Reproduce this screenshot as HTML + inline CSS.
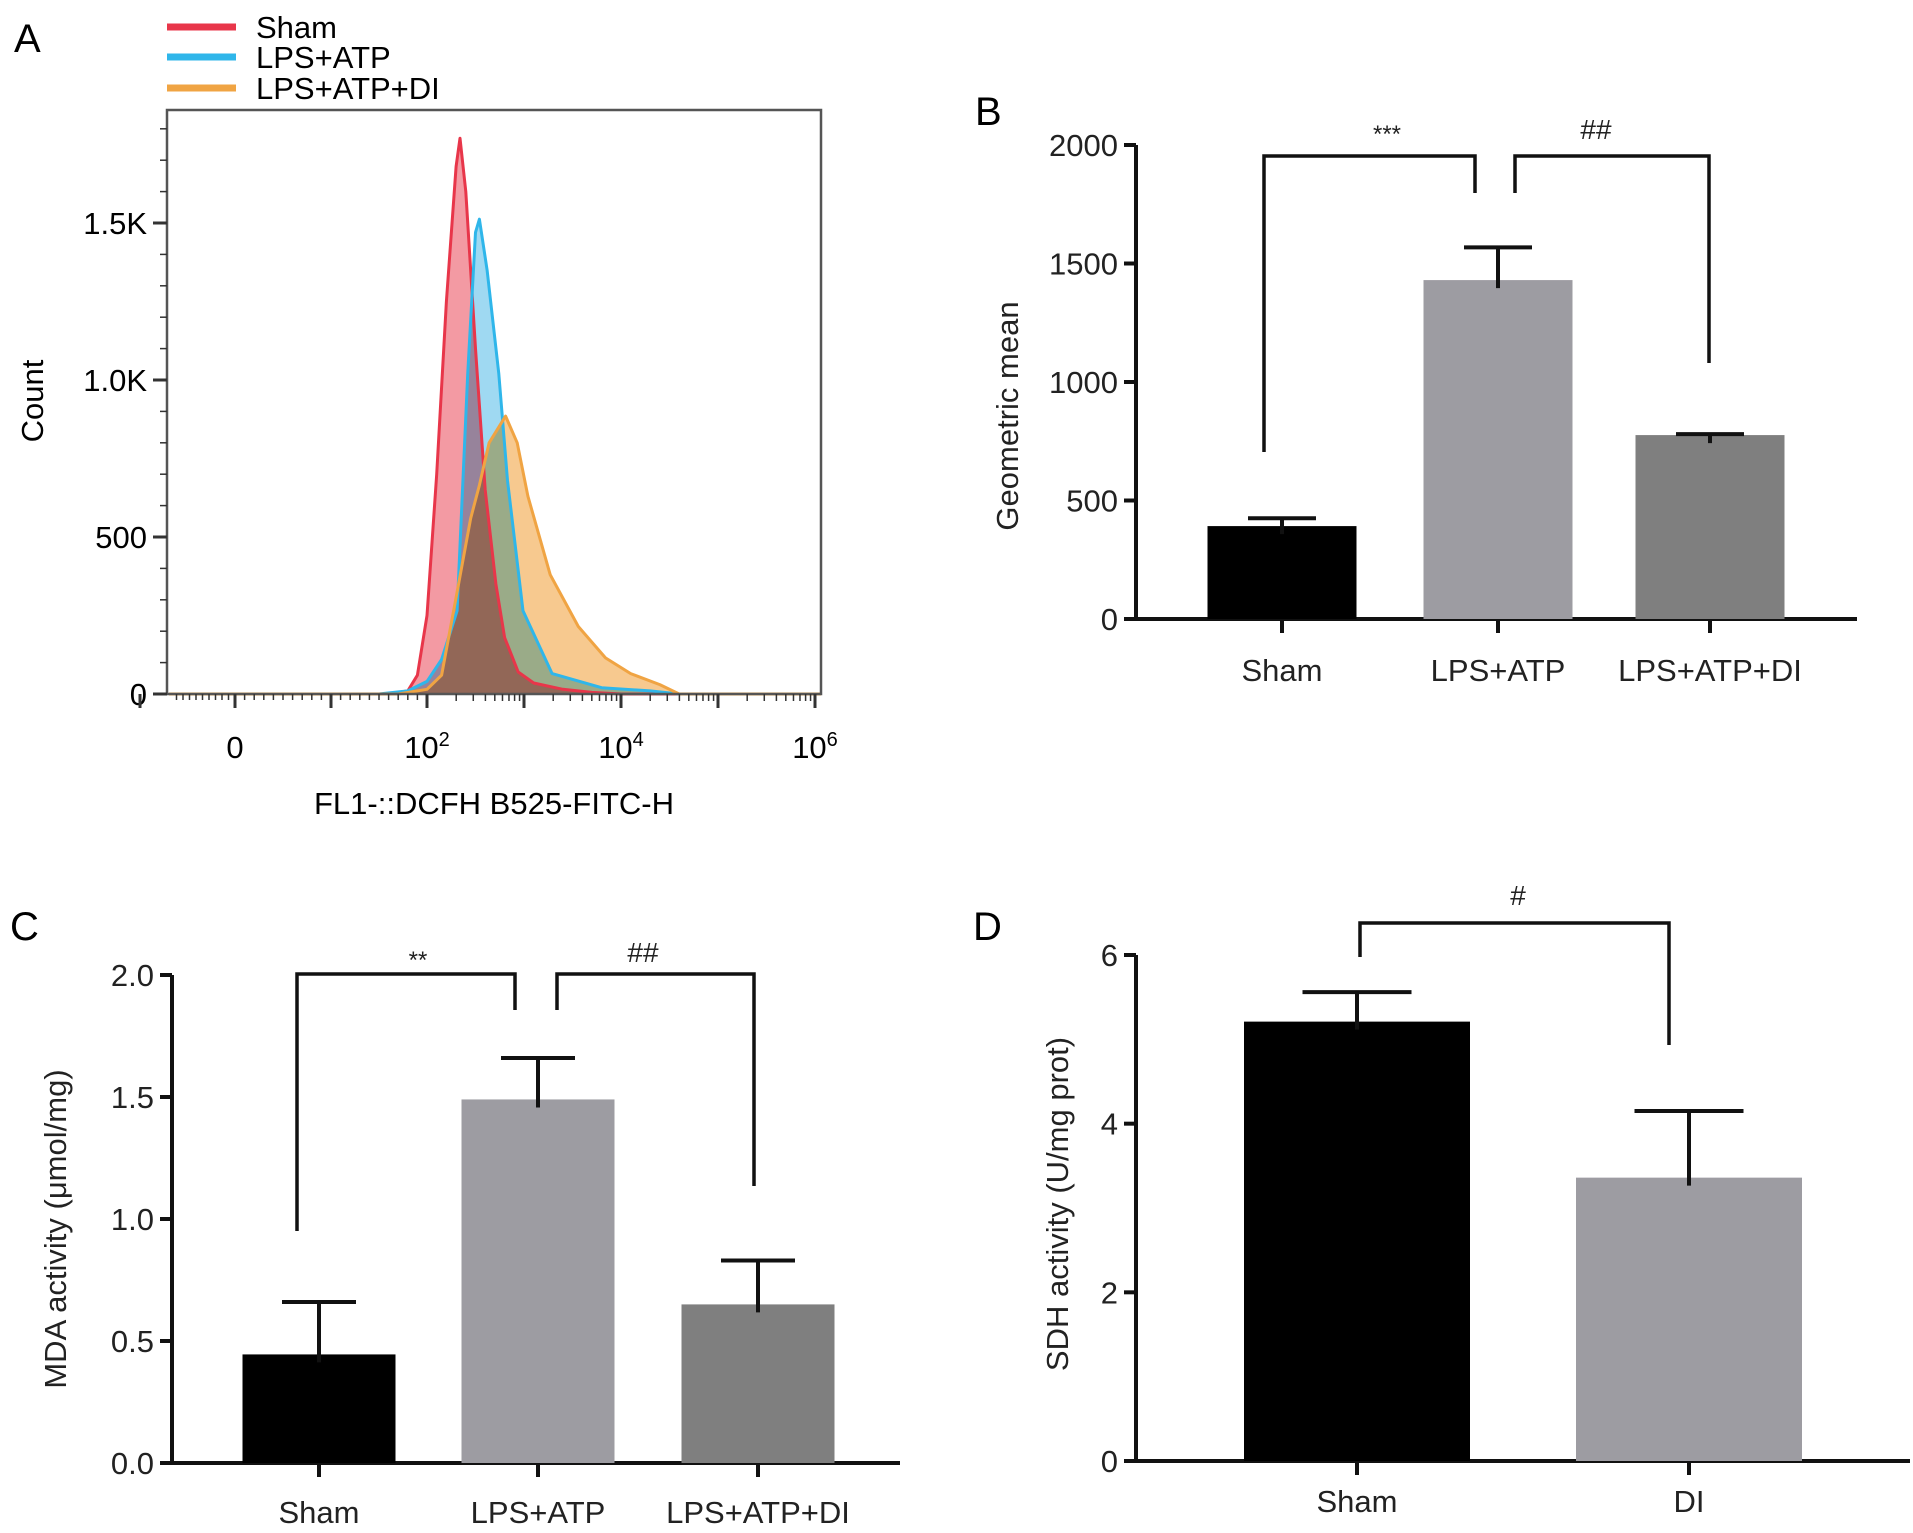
<!DOCTYPE html>
<html><head><meta charset="utf-8"><style>
body{margin:0;background:#fff;}
svg{display:block;font-family:"Liberation Sans",sans-serif;}
</style></head><body>
<svg id="fig" width="1913" height="1533" viewBox="0 0 1913 1533">
<g id="pa"></g>
<g id="pb"></g>
<g id="pc"></g>
<g id="pd"></g>
</svg>
<script>
// ---- Panel A data (log10 fluorescence, count)
const shamX=[1.6,1.8,1.9,2.0,2.1,2.2,2.3,2.34,2.4,2.5,2.6,2.71,2.8,2.94,3.1,3.4,3.7,4.0];
const shamY=[0,10,60,250,700,1250,1680,1770,1600,1100,650,350,180,70,35,15,5,0];
const lpsX=[1.5,1.8,2.0,2.15,2.31,2.42,2.5,2.54,2.62,2.74,2.83,2.99,3.29,3.8,4.3,4.6];
const lpsY=[0,10,40,110,265,1018,1470,1512,1350,1020,680,265,65,20,10,0];
const diX=[1.7,2.0,2.15,2.31,2.45,2.54,2.64,2.81,2.93,3.04,3.27,3.56,3.84,4.1,4.4,4.6];
const diY=[0,15,60,325,560,665,800,885,800,630,380,215,115,65,30,0];
const aYTicks=[0,500,1000,1500];
const aYLabels=["0","500","1.0K","1.5K"];
const aXMajor=[-1,0,1,2,3,4,5,6];
// ---- Panel B
const bCats=["Sham","LPS+ATP","LPS+ATP+DI"];
const bVals=[392,1430,776];
const bErr=[425,1568,780];
const bTicks=[0,500,1000,1500,2000];
// ---- Panel C
const cCats=["Sham","LPS+ATP","LPS+ATP+DI"];
const cVals=[0.445,1.49,0.65];
const cErr=[0.66,1.66,0.83];
const cTicks=[0,0.5,1.0,1.5,2.0];
const cTickLabels=["0.0","0.5","1.0","1.5","2.0"];
// ---- Panel D
const dCats=["Sham","DI"];
const dVals=[5.21,3.36];
const dErr=[5.56,4.15];
const dTicks=[0,2,4,6];

const NS="http://www.w3.org/2000/svg";
function mk(parent,tag,attrs,text){const e=document.createElementNS(NS,tag);for(const k in attrs)e.setAttribute(k,attrs[k]);if(text!==undefined)e.textContent=text;parent.appendChild(e);return e;}

// ===== Panel A =====
(function(){
const g=document.getElementById('pa');
const L=167,T=110,R=821,B=694;
const y=v=>B-v*(157/500);
const x=v=>v<=0? 235+v*95 : (v<2? 235+v*96 : 427+(v-2)*97);
let t=mk(g,'text',{x:14,y:52,'font-size':40},'A');

const series=[{n:'sham',X:shamX,Y:shamY,s:'#e8364a',f:'#f39aa3'},{n:'lps-atp',X:lpsX,Y:lpsY,s:'#2fb6ea',f:'#9fd9f2'},{n:'lps-atp-di',X:diX,Y:diY,s:'#f0a443',f:'#f7c98f'}];
const legY=[27,57,88],legN=['Sham','LPS+ATP','LPS+ATP+DI'];
series.forEach((s,i)=>{
 let l=mk(g,'line',{x1:167,x2:236,y1:legY[i],y2:legY[i],stroke:s.s,'stroke-width':7});
 
 let tx=mk(g,'text',{x:256,y:legY[i]+11,'font-size':31},legN[i]);
 
});
series.forEach(s=>{
 let d='M'+x(s.X[0])+','+B;
 s.X.forEach((v,i)=>{d+=' L'+x(v).toFixed(1)+','+y(s.Y[i]).toFixed(1);});
 d+=' L'+x(s.X[s.X.length-1])+','+B+' Z';
 let p=mk(g,'path',{d:d,fill:s.f,style:'mix-blend-mode:multiply'});
 
});
series.forEach(s=>{
 let d='M'+(L+2)+','+B+' L'+x(s.X[0])+','+B;
 s.X.forEach((v,i)=>{d+=' L'+x(v).toFixed(1)+','+y(s.Y[i]).toFixed(1);});
 d+=' L'+R+','+B;
 let p=mk(g,'path',{d:d,fill:'none',stroke:s.s,'stroke-width':3,'stroke-linejoin':'round'});
 
});
let fr=mk(g,'rect',{x:L,y:T,width:R-L,height:B-T,fill:'none',stroke:'#555','stroke-width':2.5});

for(let v=0;v<=1800;v+=100){mk(g,'line',{x1:L-(v%500==0?14:7),x2:L,y1:y(v),y2:y(v),stroke:'#333','stroke-width':v%500==0?3:1.5});}
aYTicks.forEach((v,i)=>{let tx=mk(g,'text',{x:L-20,y:y(v)+11,'font-size':31,'text-anchor':'end'},aYLabels[i]);
 });
aXMajor.forEach(v=>{mk(g,'line',{x1:x(v),x2:x(v),y1:B,y2:B+14,stroke:'#333','stroke-width':3});});
for(let d=2;d<6;d++){for(let k=2;k<10;k++){const v=d+Math.log10(k);mk(g,'line',{x1:x(v),x2:x(v),y1:B,y2:B+7,stroke:'#333','stroke-width':1.5});}}
for(let i=1;i<10;i++){mk(g,'line',{x1:235-i*6.5,x2:235-i*6.5,y1:B,y2:B+6,stroke:'#333','stroke-width':1.5});mk(g,'line',{x1:235+i*9.6,x2:235+i*9.6,y1:B,y2:B+6,stroke:'#333','stroke-width':1.5});mk(g,'line',{x1:331+i*9.6,x2:331+i*9.6,y1:B,y2:B+6,stroke:'#333','stroke-width':1.5});}
const xl=[[0,'0',''],[2,'10','2'],[4,'10','4'],[6,'10','6']];
xl.forEach(a=>{let tx=mk(g,'text',{x:x(a[0]),y:758,'font-size':31,'text-anchor':'middle'});
 
 tx.appendChild(document.createTextNode(a[1]));
 if(a[2]){mk(tx,'tspan',{'font-size':20,dy:-12},a[2]);}});
let xt=mk(g,'text',{x:494,y:814,'font-size':31,'text-anchor':'middle'},'FL1-::DCFH B525-FITC-H');

let yt=mk(g,'text',{x:0,y:0,'font-size':31,'text-anchor':'middle',transform:'translate(43,401) rotate(-90)'},'Count');

})();

function barPanel(cfg){
 const g=document.getElementById(cfg.id);
 const y=v=>cfg.y0-v*cfg.ppu;
 let t=mk(g,'text',{x:cfg.lx,y:cfg.ly,'font-size':40},cfg.letter);
 
 const top=y(cfg.ticks[cfg.ticks.length-1]);
 let ax=mk(g,'line',{x1:cfg.ax,x2:cfg.ax,y1:top,y2:cfg.y0,stroke:'#111','stroke-width':4});
 
 let xa=mk(g,'line',{x1:cfg.ax-12,x2:cfg.xend,y1:cfg.y0,y2:cfg.y0,stroke:'#111','stroke-width':4});
 
 cfg.ticks.forEach((v,i)=>{mk(g,'line',{x1:cfg.ax-12,x2:cfg.ax,y1:y(v),y2:y(v),stroke:'#111','stroke-width':4});
  let tx=mk(g,'text',{x:cfg.ax-18,y:y(v)+11,'font-size':31,'text-anchor':'end',fill:'#222'},cfg.tickLabels?cfg.tickLabels[i]:String(v));
  });
 cfg.cats.forEach((c,i)=>{
  const cx=cfg.cx[i];
  let r=mk(g,'rect',{x:cx-cfg.bw/2,y:y(cfg.vals[i]),width:cfg.bw,height:cfg.y0-y(cfg.vals[i]),fill:cfg.colors[i]});
  
  let e=mk(g,'path',{d:`M${cx},${y(cfg.vals[i])+8} V${y(cfg.err[i])} M${cx-cfg.cw/2},${y(cfg.err[i])} H${cx+cfg.cw/2}`,stroke:'#111','stroke-width':4,fill:'none'});
  
  mk(g,'line',{x1:cx,x2:cx,y1:cfg.y0,y2:cfg.y0+14,stroke:'#111','stroke-width':4});
  let tx=mk(g,'text',{x:cx,y:cfg.laby,'font-size':31,'text-anchor':'middle',fill:'#222'},c);
  
 });
 cfg.brackets.forEach(b=>{
  let p=mk(g,'path',{d:`M${b[0]},${b[1]} V${b[2]} H${b[3]} V${b[4]}`,stroke:'#111','stroke-width':3.5,fill:'none'});
  
  let tx=mk(g,'text',{x:b[5],y:b[6],'font-size':b[7].indexOf('#')>=0?28:24,'text-anchor':'middle',fill:'#222'},b[7]);
  
 });
 let yt=mk(g,'text',{x:0,y:0,'font-size':31,'text-anchor':'middle',fill:'#222',transform:`translate(${cfg.ytx},${cfg.yty}) rotate(-90)`},cfg.ytitle);
 
}
barPanel({id:'pb',letter:'B',lx:975,ly:125,ax:1136,y0:619,ppu:(619-145)/2000,xend:1857,ticks:bTicks,cats:bCats,vals:bVals,err:bErr,
 cx:[1282,1498,1710],bw:149,cw:68,colors:['#000','#9d9ca2','#7f7f7f'],laby:681,
 brackets:[[1264,452,156,1475,193,1387,142,'***'],[1515,193,156,1709,363,1596,139,'##']],
 ytitle:'Geometric mean',ytx:1018,yty:416});
barPanel({id:'pc',letter:'C',lx:10,ly:940,ax:172,y0:1463,ppu:(1463-975)/2,xend:900,ticks:cTicks,tickLabels:cTickLabels,cats:cCats,vals:cVals,err:cErr,
 cx:[319,538,758],bw:153,cw:74,colors:['#000','#9d9ca2','#7f7f7f'],laby:1523,
 brackets:[[297,1231,974,515,1010,418,968,'**'],[557,1010,974,754,1186,643,962,'##']],
 ytitle:'MDA activity (μmol/mg)',ytx:66,yty:1229});
barPanel({id:'pd',letter:'D',lx:973,ly:940,ax:1136,y0:1461,ppu:(1461-955)/6,xend:1910,ticks:dTicks,cats:dCats,vals:dVals,err:dErr,
 cx:[1357,1689],bw:226,cw:109,colors:['#000','#9d9ca2'],laby:1512,
 brackets:[[1360,957,923,1669,1045,1518,905,'#']],
 ytitle:'SDH activity (U/mg prot)',ytx:1068,yty:1204});
</script>
</body></html>
